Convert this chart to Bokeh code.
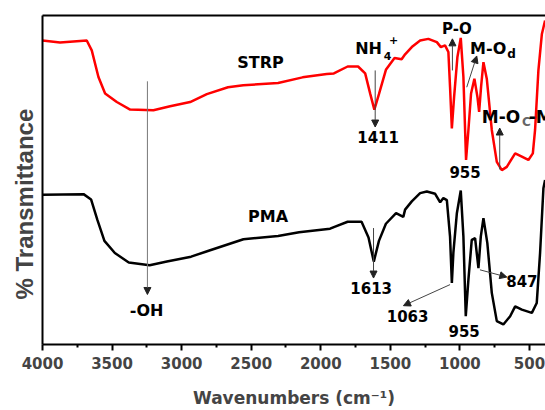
from bokeh.plotting import figure
from bokeh.models import Range1d, FixedTicker, LinearAxis, Label, Arrow, NormalHead, Title
from bokeh.embed import file_html
from bokeh.resources import INLINE

# ---- data (wavenumber cm-1, % transmittance, arbitrary offset scale) ----
strp_wn = [4000, 3874, 3682, 3646, 3598, 3550, 3466, 3370, 3203, 3083, 2939, 2819,
           2667, 2557, 2307, 2131, 1957, 1906, 1807, 1732, 1681, 1644, 1615, 1582,
           1532, 1470, 1419, 1394, 1346, 1286, 1227, 1166, 1137, 1107, 1083, 1071,
           1058, 1042, 1018, 994, 975, 956, 939, 920, 896, 874, 862, 848, 831, 807,
           771, 735, 699, 663, 603, 555, 508, 476, 460, 436, 411, 388]
strp_t = [92.4, 91.8, 92.4, 89.4, 81.3, 76.3, 73.7, 71.4, 71.2, 72.4, 73.7, 76.1,
          78.2, 78.8, 79.5, 81.2, 82.2, 82.4, 84.5, 84.5, 82.4, 76.1, 71.4, 76.1,
          83.5, 87.1, 86.7, 88.2, 90.4, 92.4, 92.9, 91.9, 90.4, 90.9, 88.9, 78.3,
          65.7, 75.2, 87.4, 93.2, 81.3, 56.1, 65.2, 76.3, 80.8, 75.2, 70.7, 78.3, 85.8, 80.8,
          65.2, 55.5, 53.0, 54.0, 58.1, 57.1, 56.1, 58.1, 65.2, 83.3, 94.4, 98.5]

pma_wn = [4000, 3705, 3651, 3605, 3555, 3480, 3380, 3230, 3106, 2932, 2806, 2556,
          2307, 2156, 1933, 1906, 1807, 1707, 1657, 1619, 1582, 1532, 1459, 1407,
          1394, 1346, 1286, 1238, 1178, 1142, 1119, 1094, 1071, 1058, 1047, 1022,
          994, 975, 958, 939, 915, 891, 867, 850, 831, 803, 771, 735, 688, 639,
          603, 555, 483, 448, 424, 400, 388]
pma_t = [45.5, 45.7, 44.1, 37.8, 31.5, 27.8, 24.9, 24.1, 25.2, 26.7, 28.5, 32.0,
         33.0, 34.1, 35.2, 35.7, 37.3, 37.3, 32.5, 25.2, 31.5, 36.7, 39.9, 38.8,
         41.0, 43.5, 46.0, 46.5, 45.8, 43.2, 44.5, 43.9, 32.8, 18.7, 27.9, 39.9,
         46.8, 32.8, 8.6, 19.7, 31.8, 32.3, 23.2, 32.8, 38.4, 30.8, 15.7, 7.1, 6.1, 8.6,
         11.6, 10.6, 9.6, 12.6, 27.8, 47.5, 50.0]

x_ticks = [4000, 3500, 3000, 2500, 2000, 1500, 1000, 500]
x_minor = [3750, 3250, 2750, 2250, 1750, 1250, 750]

FONT = "DejaVu Sans"
YFONT = "Liberation Sans"

p = figure(width=545, height=410, output_backend="svg", toolbar_location=None,
           x_range=Range1d(4000, 385), y_range=Range1d(0, 100),
           min_border_left=42, min_border_right=0, min_border_top=15, min_border_bottom=65,
           x_axis_label="Wavenumbers (cm\u207b\u00b9)")
p.grid.visible = False
p.outline_line_color = None
p.background_fill_color = "white"
p.border_fill_color = "white"

xa = p.xaxis[0]
xa.ticker = FixedTicker(ticks=x_ticks, minor_ticks=x_minor)
xa.axis_line_width = 2
xa.major_tick_line_width = 2
xa.minor_tick_line_width = 2
xa.major_tick_in = 0
xa.major_tick_out = 6
xa.minor_tick_in = 0
xa.minor_tick_out = 3
xa.major_label_text_font = FONT
xa.major_label_text_font_style = "bold"
xa.major_label_text_font_size = "15px"
xa.major_label_standoff = 6
xa.axis_label_text_font = FONT
xa.axis_label_text_font_style = "bold"
xa.axis_label_text_font_size = "17px"
xa.axis_label_standoff = 16

ya = p.yaxis[0]
ya.ticker = FixedTicker(ticks=[])
ya.axis_line_width = 2
ya.major_tick_out = 0
ya.minor_tick_out = 0
ya.major_tick_in = 0
ya.minor_tick_in = 0
ya.major_label_text_font_size = "0px"

p.add_layout(Title(text="% Transmittance", align="left", offset=45, standoff=9,
                   text_font=YFONT, text_font_style="bold", text_font_size="24px"), "left")

top = LinearAxis(ticker=FixedTicker(ticks=[]), major_label_text_font_size="0px",
                 major_tick_out=0, minor_tick_out=0, major_tick_in=0, minor_tick_in=0,
                 axis_line_width=2)
p.add_layout(top, "above")

p.line(strp_wn, strp_t, line_color="#ff0000", line_width=2.5)
p.line(pma_wn, pma_t, line_color="black", line_width=2.5)

AC = "#444444"
def arrow(x0, y0, x1, y1, color=AC):
    p.add_layout(Arrow(x_start=x0, y_start=y0, x_end=x1, y_end=y1,
                       line_color=color, line_width=1,
                       end=NormalHead(size=7, fill_color="#222222", line_color="#222222", line_width=1)))

arrow(3246, 80.0, 3246, 15.2, "#777777")
arrow(1609, 83.3, 1609, 66.1)
arrow(1054, 83.3, 1054, 92.9)
arrow(951, 78.2, 879, 87.7)
arrow(714, 53.2, 714, 65.8)
arrow(1621, 35.4, 1621, 20.2)
arrow(1071, 18.2, 1406, 11.8)
arrow(856, 22.7, 663, 20.5)

def lab(x, y, t, size="15px", align="center", color="black"):
    p.add_layout(Label(x=x, y=y, text=t, text_font=FONT, text_font_style="bold",
                       text_font_size=size, text_align=align, text_baseline="middle",
                       text_color=color))

lab(2433, 85.6, "STRP", size="16px")
lab(2379, 38.8, "PMA", size="16px")
lab(1753, 90.0, "NH", size="16px", align="left")
lab(1548, 87.6, "4", size="11px", align="left")
lab(1510, 92.6, "+", size="11px", align="left")
lab(1588, 63.0, "1411")
lab(1022, 96.0, "P-O")
lab(927, 89.9, "M-O", size="16px", align="left")
lab(660, 88.3, "d", size="12px", align="left")
lab(963, 52.4, "955")
lab(843, 69.2, "M-O", size="17px", align="left")
lab(553, 67.6, "C", size="12px", align="left", color="#666666")
lab(505, 69.2, "-M", size="17px", align="left")
lab(3252, 10.2, "-OH", size="16px")
lab(1638, 17.2, "1613")
lab(1376, 8.8, "1063")
lab(970, 4.0, "955")
lab(555, 19.4, "847")

open("out.html", "w").write(file_html(p, INLINE))
